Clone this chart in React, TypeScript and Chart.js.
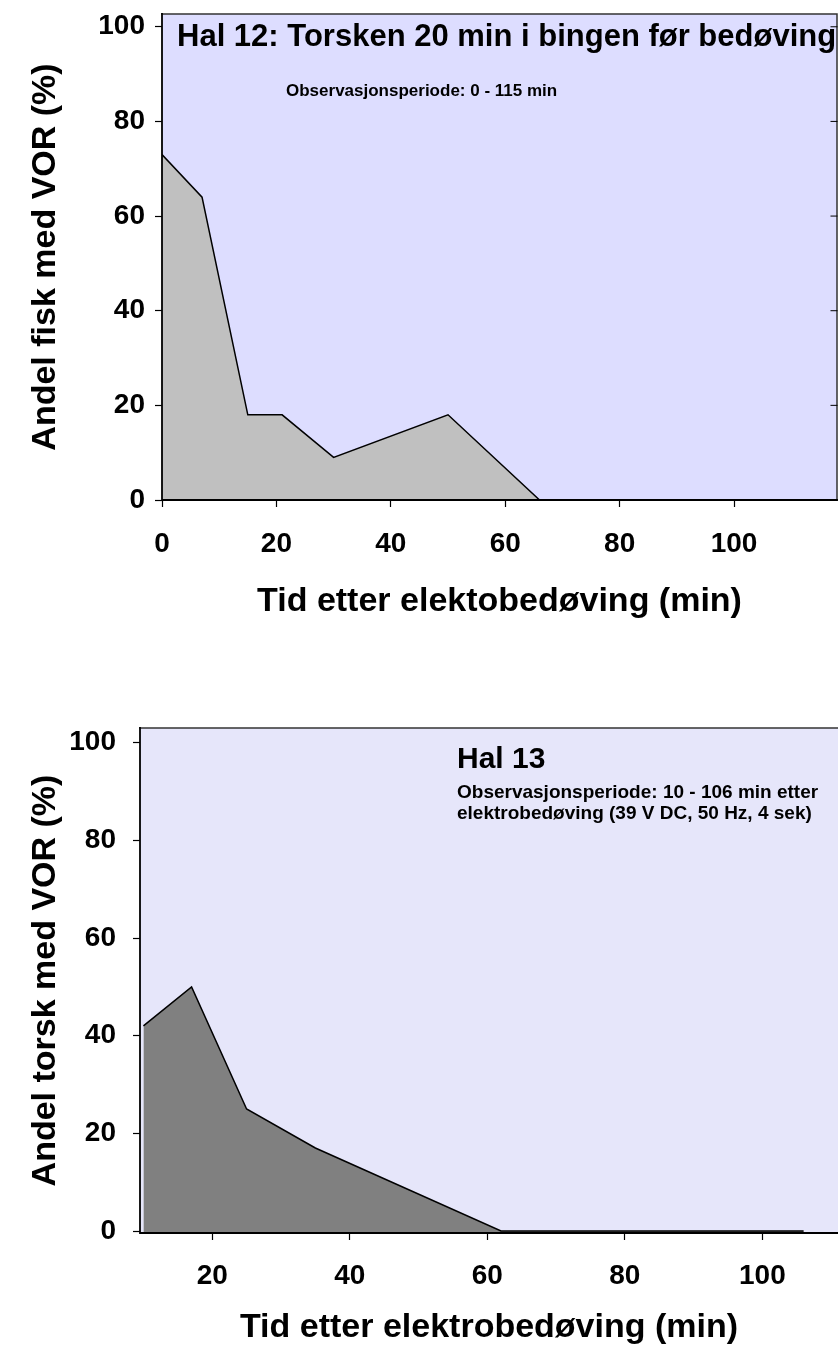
import React, { useEffect, useRef } from "react";
import { Chart, registerables } from "chart.js";

Chart.register(...registerables);

// ---- data ----
const hal12Time = [0, 7, 15, 21, 30, 50, 66, 115];
const hal12Share = [73, 64, 18, 18, 9, 18, 0, 0];
const hal13Time = [10, 17, 25, 35, 62, 106];
const hal13Share = [42, 50, 25, 17, 0, 0];

const hal12Title = "Hal 12: Torsken 20 min i bingen før bedøving";
const hal12Note = ["Observasjonsperiode: 0 - 115 min"];
const hal13Title = "Hal 13";
const hal13Note = [
  "Observasjonsperiode: 10 - 106 min etter",
  "elektrobedøving (39 V DC, 50 Hz, 4 sek)",
];
const hal12XTitle = "Tid etter elektobedøving (min)";
const hal13XTitle = "Tid etter elektrobedøving (min)";
const hal12YTitle = "Andel fisk med VOR (%)";
const hal13YTitle = "Andel torsk med VOR (%)";

const FAMILY = "'Liberation Sans', Arial, Helvetica, sans-serif";

type TextItem = { text: string; dx: number; dy: number; size: number };

type PanelCfg = {
  time: number[];
  share: number[];
  fill: string;
  bg: string;
  xMin: number;
  xMax: number;
  yMin: number;
  yMax: number;
  padTop: number;
  padRight: number;
  yWidth: number;
  xHeight: number;
  xTitle: string;
  yTitle: string;
  xTitlePad: number;
  xTickPad: number;
  yTickPad: number;
  rightFrame: boolean;
  texts: TextItem[];
};

function makeFramePlugin(cfg: PanelCfg) {
  return {
    id: "frame",
    beforeDraw(chart: any) {
      const { ctx, chartArea: a } = chart;
      ctx.save();
      ctx.fillStyle = cfg.bg;
      ctx.fillRect(a.left, a.top, a.right - a.left, a.bottom - a.top);
      ctx.restore();
    },
    afterDraw(chart: any) {
      const { ctx, chartArea: a } = chart;
      ctx.save();
      ctx.lineCap = "square";
      ctx.strokeStyle = "#333";
      ctx.lineWidth = 1.5;
      ctx.beginPath();
      ctx.moveTo(a.left, a.top);
      ctx.lineTo(a.right, a.top);
      if (cfg.rightFrame) ctx.lineTo(a.right, a.bottom);
      ctx.stroke();
      if (cfg.rightFrame) {
        const ys = chart.scales.y;
        ctx.strokeStyle = "#000";
        ctx.lineWidth = 1;
        ys.ticks.forEach((t: any) => {
          const py = ys.getPixelForValue(t.value);
          ctx.beginPath();
          ctx.moveTo(a.right - 6, py);
          ctx.lineTo(a.right, py);
          ctx.stroke();
        });
      }
      ctx.strokeStyle = "#000";
      ctx.lineWidth = 1.8;
      ctx.beginPath();
      ctx.moveTo(a.left, a.top);
      ctx.lineTo(a.left, a.bottom);
      ctx.lineTo(a.right, a.bottom);
      ctx.stroke();

      ctx.fillStyle = "#000";
      ctx.textAlign = "left";
      ctx.textBaseline = "alphabetic";
      cfg.texts.forEach((t) => {
        ctx.font = `bold ${t.size}px ${FAMILY}`;
        ctx.fillText(t.text, a.left + t.dx, a.top + t.dy);
      });
      ctx.restore();
    },
  };
}

function makeConfig(cfg: PanelCfg): any {
  const tickFont = { family: FAMILY, size: 28, weight: "bold" as const };
  const titleFont = { family: FAMILY, size: 34, weight: "bold" as const };
  return {
    type: "line",
    data: {
      datasets: [
        {
          data: cfg.time.map((x, i) => ({ x, y: cfg.share[i] })),
          borderColor: "#000",
          borderWidth: 1.5,
          backgroundColor: cfg.fill,
          fill: "start",
          pointRadius: 0,
          tension: 0,
        },
      ],
    },
    options: {
      responsive: false,
      animation: false,
      layout: {
        padding: { top: cfg.padTop, right: cfg.padRight, bottom: 0, left: 0 },
      },
      plugins: {
        legend: { display: false },
        tooltip: { enabled: false },
        title: { display: false },
      },
      scales: {
        x: {
          type: "linear",
          min: cfg.xMin,
          max: cfg.xMax,
          afterFit: (s: any) => {
            s.height = cfg.xHeight;
            s.paddingLeft = 0;
            s.paddingRight = 0;
          },
          ticks: {
            stepSize: 20,
            includeBounds: false,
            autoSkip: false,
            maxRotation: 0,
            font: tickFont,
            color: "#000",
            padding: cfg.xTickPad,
          },
          grid: {
            display: true,
            drawOnChartArea: false,
            drawTicks: true,
            tickLength: 7,
            tickColor: "#000",
            tickWidth: 1.2,
          },
          border: { display: false },
          title: {
            display: true,
            text: cfg.xTitle,
            font: titleFont,
            color: "#000",
            padding: { top: 0, bottom: cfg.xTitlePad },
          },
        },
        y: {
          type: "linear",
          min: cfg.yMin,
          max: cfg.yMax,
          afterFit: (s: any) => {
            s.width = cfg.yWidth;
            s.paddingTop = 0;
            s.paddingBottom = 0;
          },
          ticks: {
            stepSize: 20,
            includeBounds: false,
            autoSkip: false,
            font: tickFont,
            color: "#000",
            padding: cfg.yTickPad,
          },
          grid: {
            display: true,
            drawOnChartArea: false,
            drawTicks: true,
            tickLength: 7,
            tickColor: "#000",
            tickWidth: 1.2,
          },
          border: { display: false },
          title: {
            display: true,
            text: cfg.yTitle,
            font: titleFont,
            color: "#000",
            padding: { top: 25.6, bottom: 0 },
          },
        },
      },
    },
    plugins: [makeFramePlugin(cfg)],
  };
}

const topPanel: PanelCfg = {
  time: hal12Time,
  share: hal12Share,
  fill: "#C0C0C0",
  bg: "#DDDDFF",
  xMin: 0,
  xMax: 118,
  yMin: 0,
  yMax: 102.7,
  padTop: 14,
  padRight: 1,
  yWidth: 162,
  xHeight: 150,
  xTitle: hal12XTitle,
  yTitle: hal12YTitle,
  xTitlePad: 27.6,
  xTickPad: 20,
  yTickPad: 10,
  rightFrame: true,
  texts: [
    { text: hal12Title, dx: 15, dy: 32, size: 31 },
    { text: hal12Note[0], dx: 124, dy: 82, size: 17 },
  ],
};

const bottomPanel: PanelCfg = {
  time: hal13Time,
  share: hal13Share,
  fill: "#808080",
  bg: "#E6E6FA",
  xMin: 9.5,
  xMax: 111,
  yMin: -0.4,
  yMax: 103,
  padTop: 78,
  padRight: 0,
  yWidth: 140,
  xHeight: 116,
  xTitle: hal13XTitle,
  yTitle: hal13YTitle,
  xTitlePad: 0.6,
  xTickPad: 19,
  yTickPad: 17,
  rightFrame: false,
  texts: [
    { text: hal13Title, dx: 317, dy: 40, size: 30 },
    { text: hal13Note[0], dx: 317, dy: 70, size: 19 },
    { text: hal13Note[1], dx: 317, dy: 91, size: 19 },
  ],
};

function ChartBox({ top, height, cfg }: { top: number; height: number; cfg: PanelCfg }) {
  const ref = useRef<HTMLCanvasElement | null>(null);
  useEffect(() => {
    if (!ref.current) return;
    const chart = new Chart(ref.current, makeConfig(cfg));
    return () => chart.destroy();
  }, [cfg]);
  return (
    <canvas
      ref={ref}
      width={838}
      height={height}
      style={{ position: "absolute", left: 0, top, width: 838, height, display: "block" }}
    />
  );
}

export default function App() {
  return (
    <div
      style={{
        position: "absolute",
        left: 0,
        top: 0,
        width: 838,
        height: 1349,
        background: "#fff",
        overflow: "hidden",
      }}
    >
      <ChartBox top={0} height={650} cfg={topPanel} />
      <ChartBox top={650} height={699} cfg={bottomPanel} />
    </div>
  );
}
